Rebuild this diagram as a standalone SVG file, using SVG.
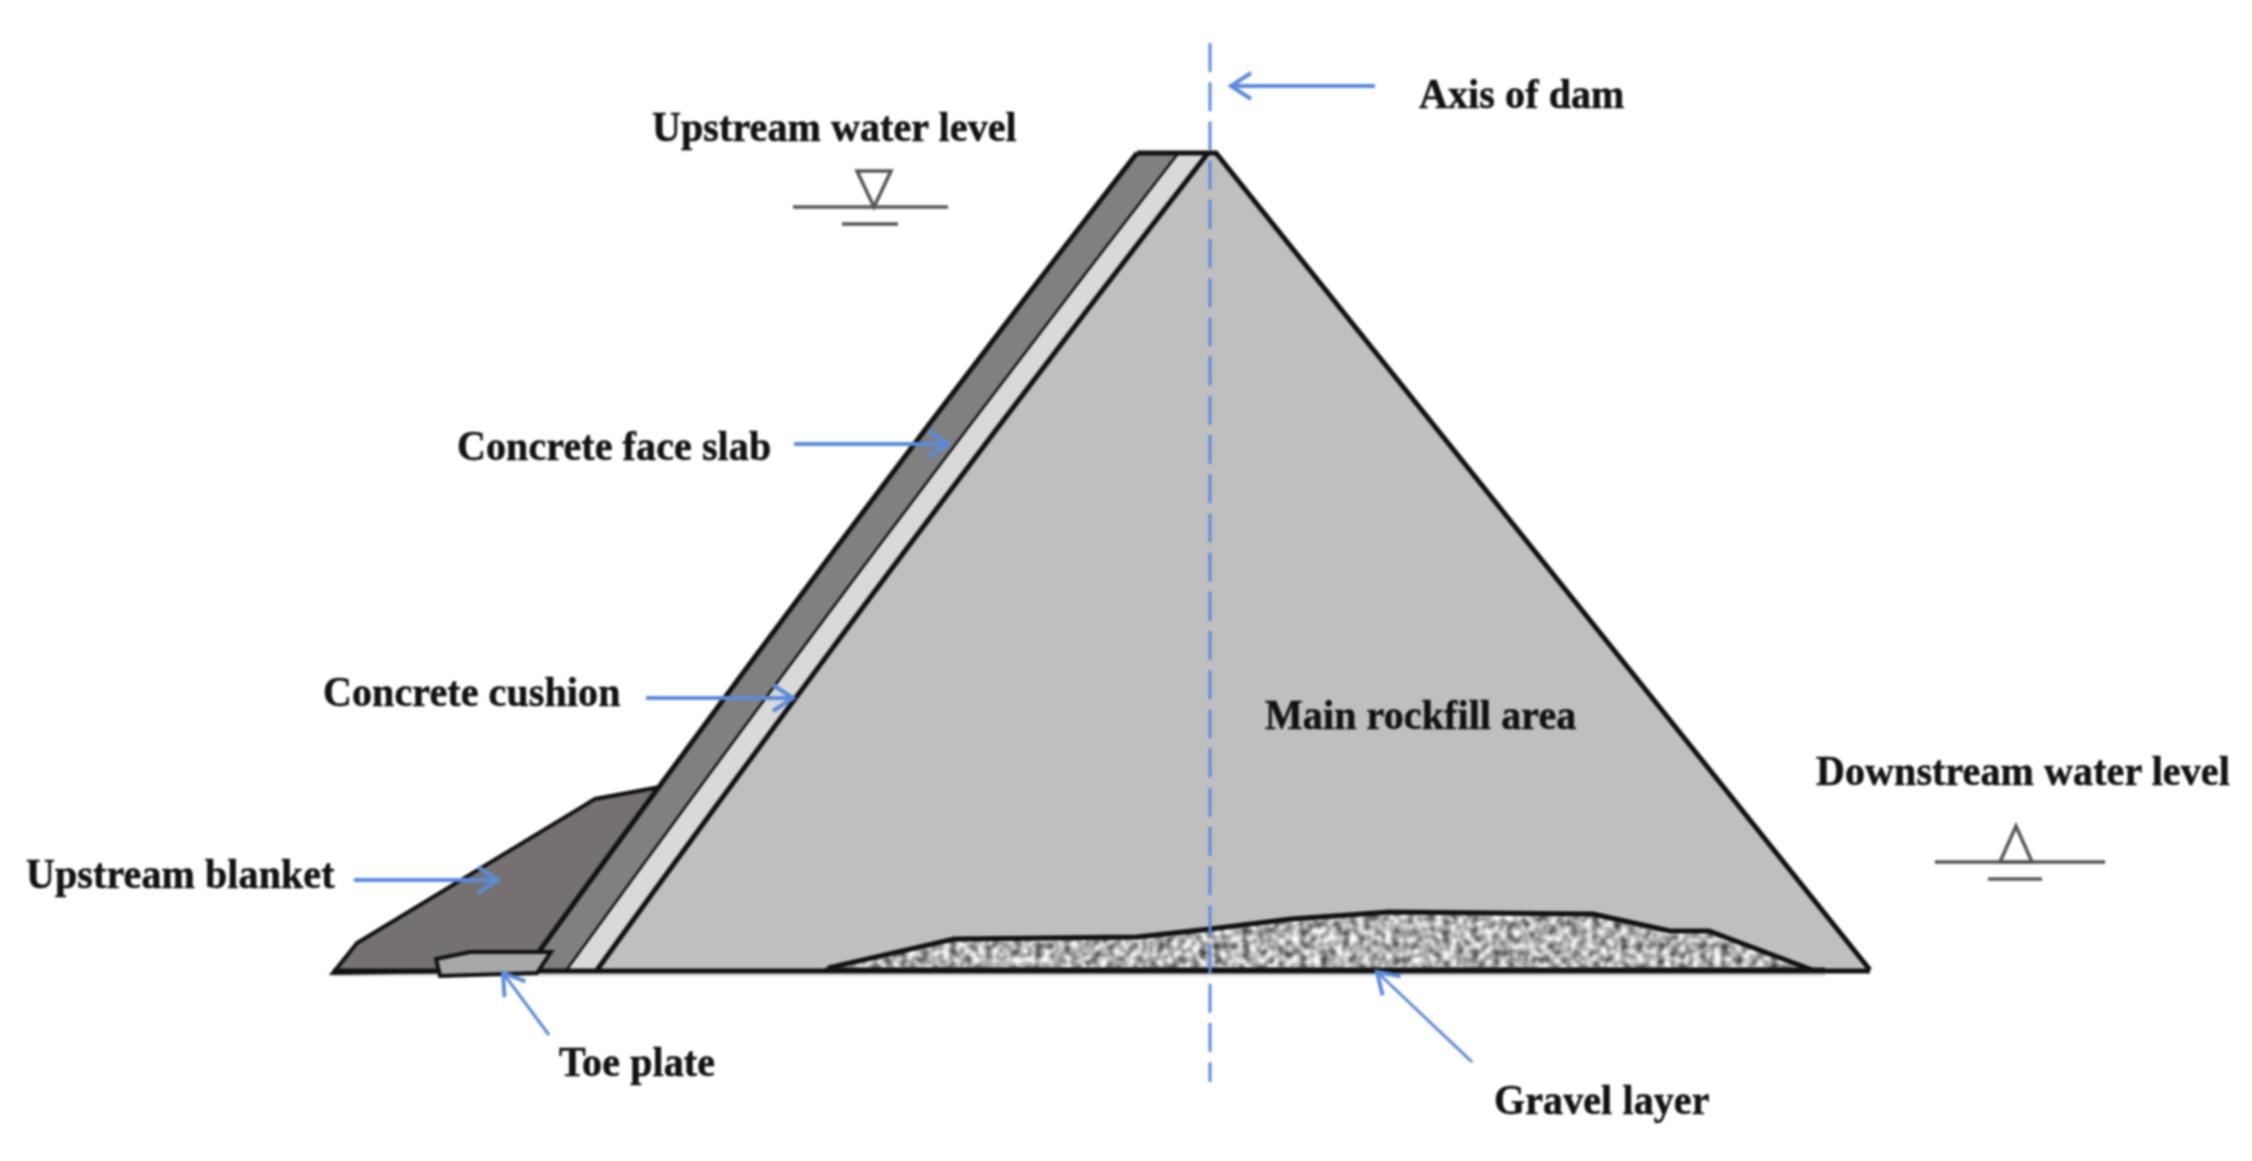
<svg xmlns="http://www.w3.org/2000/svg" width="2252" height="1161" viewBox="0 0 2252 1161">
<style>
text{font-family:"Liberation Serif","Times New Roman",serif;font-weight:bold;font-size:40px;fill:#111;stroke:#111;stroke-width:.5;letter-spacing:.1px}
.o{stroke:#111;stroke-width:4;stroke-linejoin:miter}
.l{fill:none;stroke:#111;stroke-width:5}
.s{fill:none;stroke:#555;stroke-width:3.5}
.a{fill:none;stroke:#5b8bdc;stroke-width:4;marker-end:url(#h)}
.t{fill:none;stroke:#5b8bdc;stroke-width:3;marker-end:url(#h)}
</style>
<defs>
<marker id="h" markerUnits="userSpaceOnUse" markerWidth="30" markerHeight="34" refX="23" refY="15" orient="auto" overflow="visible"><path d="M3,2 L23,15 L3,28" fill="none" stroke="#5b8bdc" stroke-width="4"/></marker>
<filter id="g" x="0" y="0" width="100%" height="100%" color-interpolation-filters="sRGB"><feTurbulence type="fractalNoise" baseFrequency="0.14" numOctaves="2" seed="4"/><feColorMatrix values="1.5 0 0 0 -0.06 1.5 0 0 0 -0.06 1.5 0 0 0 -0.06 0 0 0 0 1"/><feGaussianBlur stdDeviation="0.8"/><feComposite in2="SourceGraphic" operator="in"/></filter>
<filter id="b" x="0" y="0" width="2252" height="1161" filterUnits="userSpaceOnUse" color-interpolation-filters="sRGB"><feGaussianBlur stdDeviation="0.9"/></filter>
</defs>
<rect width="2252" height="1161" fill="#fff"/>
<g filter="url(#b)">
<path d="M333,975 H1825" stroke="#ddd" stroke-width="3"/>
<g id="upstream-blanket"><polygon class="o" fill="#767171" stroke-width="3" points="333,973 357,943 595,799 660,787 539,953 537,970"/></g>
<g id="concrete-face-slab"><path fill="#808080" d="M1137,153 Q827,553 538,953 L524,970 H568 Q864,561 1180,153 Z"/><path class="l" stroke-width="4" d="M1137,153 Q827,553 538,953"/><path class="l" stroke-width="4" d="M1180,153 Q864,561 568,970"/></g>
<g id="concrete-cushion"><path fill="#d9d9d9" d="M1180,153 Q864,561 568,970 H597 Q892,561 1208,153 Z"/></g>
<g id="main-rockfill"><path fill="#bfbfbf" d="M1208,153 H1216 L1870,970 H597 Q892,561 1208,153 Z"/><path class="l" stroke-width="5" d="M1208,153 Q892,561 597,970"/><path class="l" d="M1137,153 H1216 L1870,970 M333,971 H1870" stroke-width="4.5"/></g>
<g id="toe-plate"><polygon class="o" fill="#a8a8a8" points="436,959 470,952 551,952 537,973 440,976"/></g>
<g id="gravel-layer"><polygon fill="#c4c4c4" filter="url(#g)" points="828,968 954,939 1137,937 1210,929 1291,919 1389,912 1593,914 1670,931 1709,931 1807,968"/><path class="l" d="M828,968 L954,939 L1137,937 L1210,929 L1291,919 L1389,912 L1593,914 L1670,931 L1709,931 L1815,971" stroke-width="3"/><path class="l" d="M825,970 H1825" stroke-width="5"/></g>
<g id="upstream-water-symbol"><path class="s" d="M793,207 H948 M842,224 H898"/><polygon class="s" points="857,171 891,171 874,207"/></g>
<g id="downstream-water-symbol"><path class="s" d="M1935,862 H2105 M1988,879 H2042"/><polygon class="s" points="2000,862 2032,862 2016,826"/></g>
<g id="connectors">
<line x1="1210" y1="43" x2="1210" y2="1082" stroke="#5b8bdc" stroke-width="3" stroke-dasharray="29 10.2"/>
<line class="a" x1="1375" y1="86" x2="1231" y2="86"/>
<line class="a" x1="794" y1="444" x2="948" y2="444"/>
<line class="a" x1="646" y1="698" x2="793" y2="698"/>
<line class="a" x1="354" y1="880" x2="498" y2="880"/>
<line class="t" x1="549" y1="1035" x2="503" y2="973"/>
<line class="t" x1="1472" y1="1062" x2="1377" y2="972"/>
</g>
<g id="labels">
<text transform="translate(1419,108) scale(1,1.08)">Axis of dam</text>
<text transform="translate(652,141) scale(1,1.08)">Upstream water level</text>
<text transform="translate(457,460) scale(1,1.08)">Concrete face slab</text>
<text transform="translate(323,706) scale(1,1.08)">Concrete cushion</text>
<text transform="translate(1265,729) scale(1,1.08)">Main rockfill area</text>
<text transform="translate(26,888) scale(1,1.08)">Upstream blanket</text>
<text transform="translate(559,1076) scale(1,1.08)">Toe plate</text>
<text transform="translate(1494,1114) scale(1,1.08)">Gravel layer</text>
<text transform="translate(1816,785) scale(1,1.08)">Downstream water level</text>
</g>
</g>
</svg>
